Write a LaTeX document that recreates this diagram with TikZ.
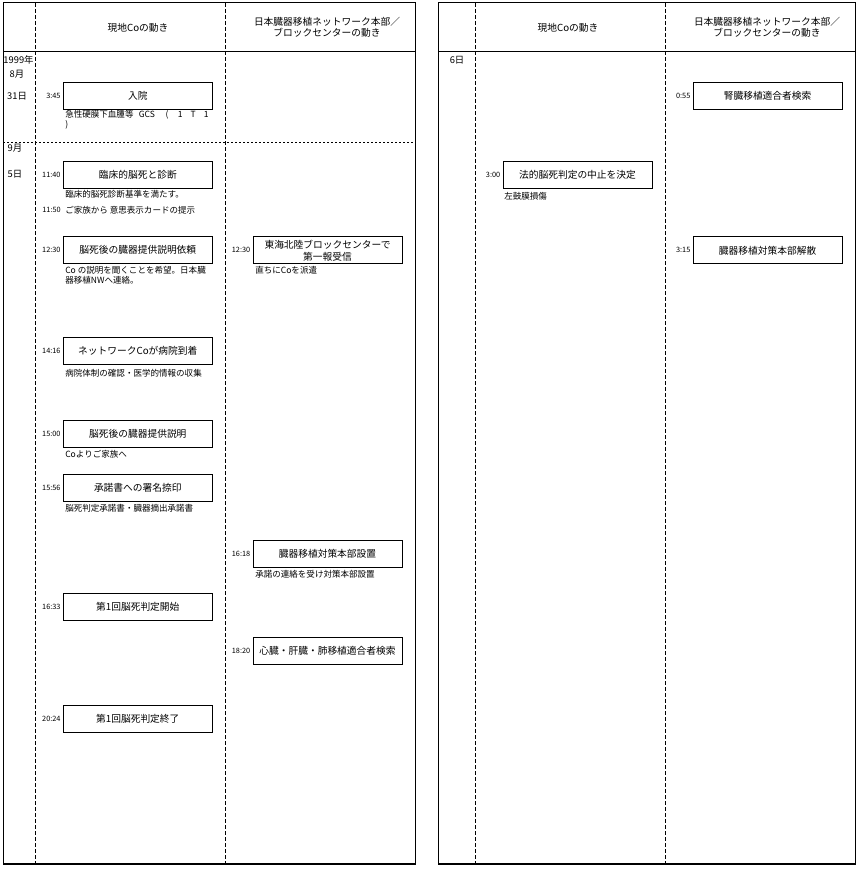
\documentclass[tikz,border=0pt]{standalone}
\usepackage{fontspec}
\setmainfont{Noto Sans CJK JP}
\begin{document}
\begin{tikzpicture}[x=0.75pt,y=-0.75pt,
  frame/.style={line width=0.75pt},
  vdash/.style={line width=0.75pt, dash pattern=on 3pt off 1.5pt},
  hdot/.style={line width=0.75pt, dash pattern=on 1.5pt off 1.5pt},
  evbox/.style={draw, line width=0.75pt, minimum width=111.75pt, minimum height=20.25pt,
    inner sep=0pt, align=center, font=\fontsize{7.3}{9}\selectfont},
  tlabel/.style={anchor=east, inner sep=0pt, font=\fontsize{5.5}{6.5}\selectfont},
  note/.style={anchor=west, inner sep=0pt, font=\fontsize{6.4}{7.6}\selectfont},
  hdr/.style={inner sep=0pt, align=center, font=\fontsize{7.3}{8.4}\selectfont},
  datel/.style={inner sep=0pt, font=\fontsize{7}{8}\selectfont}]
\useasboundingbox (0,0) rectangle (859,874);

% ---------- left table frame ----------
\draw[frame] (3,3) rectangle (415,864);
\draw[frame] (3,52) -- (415,52);
\draw[vdash] (35,3) -- (35,864);
\draw[vdash] (225,3) -- (225,864);
\draw[hdot] (3,142.7) -- (415,142.7);
\draw[line width=1.1pt] (3,864) -- (415,864);

% ---------- right table frame ----------
\draw[frame] (438,3) rectangle (855,864);
\draw[frame] (438,52) -- (855,52);
\draw[vdash] (475,3) -- (475,864);
\draw[vdash] (665,3) -- (665,864);
\draw[line width=1.1pt] (438,864) -- (855,864);

% ---------- headers ----------
\node[hdr] (h1) at (138,28) {現地Coの動き};
\node[hdr] (h2) at (327,27.5) {日本臓器移植ネットワーク本部／\\ブロックセンターの動き};
\node[hdr] (h3) at (568,28) {現地Coの動き};
\node[hdr] (h4) at (767,27.5) {日本臓器移植ネットワーク本部／\\ブロックセンターの動き};

% ---------- dates ----------
\node[datel] (d1) at (18.5,60) {1999年};
\node[datel] (d2) at (17,74) {8月};
\node[datel] (d3) at (17,96) {31日};
\node[datel] (d4) at (15,148.5) {9月};
\node[datel] (d5) at (15,174.5) {5日};
\node[datel] (d6) at (457,60) {6日};

% ---------- event boxes ----------
\node[evbox] (b1)  at (137.8,96)    {入院};
\node[evbox] (b2)  at (137.8,175)   {臨床的脳死と診断};
\node[evbox] (b3)  at (137.8,250.3) {脳死後の臓器提供説明依頼};
\node[evbox] (b4)  at (327.5,250.3) {東海北陸ブロックセンターで\\第一報受信};
\node[evbox] (b5)  at (137.8,350.5) {ネットワークCoが病院到着};
\node[evbox] (b6)  at (137.8,434)   {脳死後の臓器提供説明};
\node[evbox] (b7)  at (137.8,487.5) {承諾書への署名捺印};
\node[evbox] (b8)  at (327.5,554)   {臓器移植対策本部設置};
\node[evbox] (b9)  at (137.8,606.5) {第1回脳死判定開始};
\node[evbox] (b10) at (327.5,650.5) {心臓・肝臓・肺移植適合者検索};
\node[evbox] (b11) at (137.8,718.5) {第1回脳死判定終了};
\node[evbox] (b12) at (767.6,96)    {腎臓移植適合者検索};
\node[evbox] (b13) at (577.5,175)   {法的脳死判定の中止を決定};
\node[evbox] (b14) at (767.6,250.3) {臓器移植対策本部解散};

% ---------- times ----------
\node[tlabel] (t1)  at ([xshift=-1.5pt]b1.west)  {3:45};
\node[tlabel] (t2)  at ([xshift=-1.5pt]b2.west)  {11:40};
\node[tlabel] (t3)  at ([xshift=-1.5pt]b3.west)  {12:30};
\node[tlabel] (t4)  at ([xshift=-1.5pt]b4.west)  {12:30};
\node[tlabel] (t5)  at ([xshift=-1.5pt]b5.west)  {14:16};
\node[tlabel] (t6)  at ([xshift=-1.5pt]b6.west)  {15:00};
\node[tlabel] (t7)  at ([xshift=-1.5pt]b7.west)  {15:56};
\node[tlabel] (t8)  at ([xshift=-1.5pt]b8.west)  {16:18};
\node[tlabel] (t9)  at ([xshift=-1.5pt]b9.west)  {16:33};
\node[tlabel] (t10) at ([xshift=-1.5pt]b10.west) {18:20};
\node[tlabel] (t11) at ([xshift=-1.5pt]b11.west) {20:24};
\node[tlabel] (t12) at ([xshift=-1.5pt]b12.west) {0:55};
\node[tlabel] (t13) at ([xshift=-1.5pt]b13.west) {3:00};
\node[tlabel] (t14) at ([xshift=-1.5pt]b14.west) {3:15};
\node[tlabel] (t15) at (61,210) {11:50};

% ---------- notes ----------
\node[note] (n1)  at (65,115) {急性硬膜下血腫等\hspace{4pt}GCS\hspace{8pt}(\hspace{7pt}1\hspace{6pt}T\hspace{6pt}1};
\node[note] (n1b) at (65,125) {)};
\node[note] (n2)  at (65,194) {臨床的脳死診断基準を満たす。};
\node[note] (n3)  at (65,210.5) {ご家族から 意思表示カードの提示};
\node[note] (n4)  at (65,270) {Co の説明を聞くことを希望。日本臓};
\node[note] (n4b) at (65,280) {器移植NWへ連絡。};
\node[note] (n5)  at (255,270) {直ちにCoを派遣};
\node[note] (n6)  at (65,373) {病院体制の確認・医学的情報の収集};
\node[note] (n7)  at (65,454) {Coよりご家族へ};
\node[note] (n8)  at (65,508) {脳死判定承諾書・臓器摘出承諾書};
\node[note] (n9)  at (255,574) {承諾の連絡を受け対策本部設置};
\node[note] (n10) at (504,196) {左鼓膜損傷};
\end{tikzpicture}
\end{document}
